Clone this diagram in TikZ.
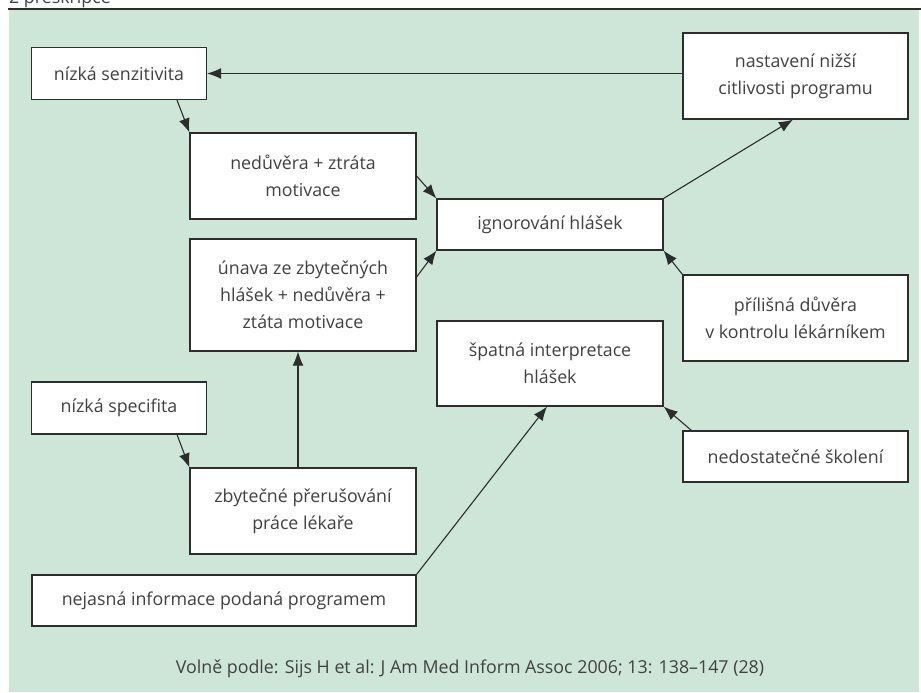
\documentclass[tikz,border=0pt]{standalone}
\usepackage{fontspec}
\setmainfont{Open Sans}
\usetikzlibrary{arrows.meta}
\definecolor{panel}{RGB}{205,230,215}
\definecolor{ink}{RGB}{45,45,45}
\definecolor{txt}{RGB}{65,65,65}
\tikzset{
  box/.style={draw=ink, line width=1.2pt, fill=white, inner sep=0pt, align=center,
    text=txt, font=\fontsize{17.8}{27}\selectfont},
  conn/.style={draw=ink, line width=1.1pt, -{Latex[length=14pt,width=11pt]}},
}
\begin{document}
\begin{tikzpicture}[x=1pt,y=-1pt]
\useasboundingbox (0,0) rectangle (921,693);
\fill[white] (0,0) rectangle (921,693);
\node[anchor=base west, text=txt, font=\fontsize{17.8}{20}\selectfont, inner sep=0pt] (hdr) at (9,3.5) {2 preskripce};
\fill[panel] (9,10) rectangle (919,692);
\draw[ink, line width=2.4pt] (8,9) -- (921,9);
\node[box, minimum width=175pt, minimum height=52pt] (ns) at (119,73.5) {nízká senzitivita};
\node[box, minimum width=226pt, minimum height=86pt] (ned) at (303,176) {nedůvěra + ztráta\\motivace};
\node[box, minimum width=226pt, minimum height=112pt] (unava) at (303,295) {únava ze zbytečných\\hlášek + nedůvěra +\\ztáta motivace};
\node[box, minimum width=226pt, minimum height=51pt] (ign) at (550,224.5) {ignorování hlášek};
\node[box, minimum width=225pt, minimum height=86pt] (nast) at (795.5,76) {nastavení nižší\\citlivosti programu};
\node[box, minimum width=225pt, minimum height=86pt] (pril) at (795.5,318) {přílišná důvěra\\v kontrolu lékárníkem};
\node[box, minimum width=226pt, minimum height=85pt] (spat) at (550,363.5) {špatná interpretace\\hlášek};
\node[box, minimum width=225pt, minimum height=51pt] (nedos) at (795.5,456.5) {nedostatečné školení};
\node[box, minimum width=175pt, minimum height=52pt] (nspec) at (119,408) {nízká specifita};
\node[box, minimum width=226pt, minimum height=86pt] (zbyt) at (303,511) {zbytečné přerušování\\práce lékaře};
\node[box, minimum width=384pt, minimum height=51pt] (nejas) at (224,600.5) {nejasná informace podaná programem};
\node[text=txt, font=\fontsize{17.8}{20}\selectfont, inner sep=0pt] (src) at (470,669) {Volně podle: Sijs H et al: J Am Med Inform Assoc 2006; 13: 138–147 (28)};
\draw[conn] (ns.east -| nast.west) -- (ns.east);
\draw[conn] ([xshift=58pt]ns.south) -- (ned.north west);
\draw[conn] (ned.east) -- (ign.north west);
\draw[conn] ([yshift=18pt]unava.east) -- (ign.south west);
\draw[conn] (ign.north east) -- ([xshift=-2.5pt]nast.south);
\draw[conn] (pril.north west) -- (ign.south east);
\draw[conn] ([xshift=-5pt]zbyt.north) -- ([xshift=-5pt]unava.south);
\draw[conn] ([xshift=58pt]nspec.south) -- (zbyt.north west);
\draw[conn] (nejas.north east) -- ([xshift=-3pt]spat.south);
\draw[conn] ([xshift=9pt]nedos.north west) -- (spat.south east);
\end{tikzpicture}
\end{document}
